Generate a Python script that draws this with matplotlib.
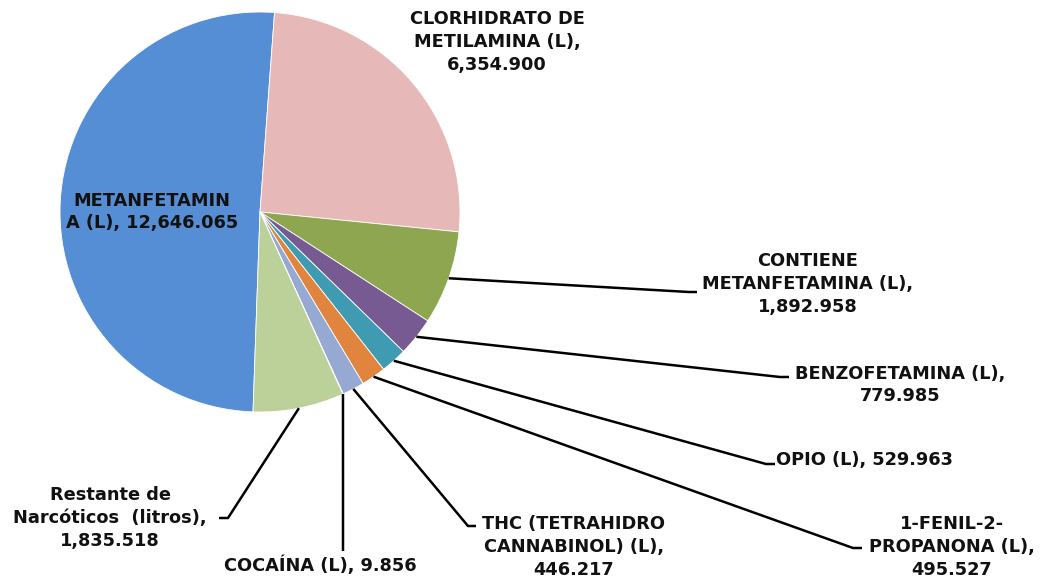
import numpy as np
import matplotlib
matplotlib.use('Agg')
import matplotlib.pyplot as plt

# values in litres
categories = [
    'METANFETAMINA', 'CLORHIDRATO DE METILAMINA', 'CONTIENE METANFETAMINA',
    'BENZOFETAMINA', 'OPIO', '1-FENIL-2-PROPANONA', 'THC', 'COCAÍNA',
    'Restante de Narcóticos',
]
values = [12646.065, 6354.900, 1892.958, 779.985, 529.963, 495.527,
          446.217, 9.856, 1835.518]
labels = [
    'METANFETAMIN\nA (L), 12,646.065',
    'CLORHIDRATO DE\nMETILAMINA (L),\n6,354.900',
    'CONTIENE\nMETANFETAMINA (L),\n1,892.958',
    'BENZOFETAMINA (L),\n779.985',
    'OPIO (L), 529.963',
    '1-FENIL-2-\nPROPANONA (L),\n495.527',
    'THC (TETRAHIDRO\nCANNABINOL) (L),\n446.217',
    'COCAÍNA (L), 9.856',
    'Restante de\nNarcóticos  (litros),\n1,835.518',
]
colors = ['#558ED5', '#E6B9B8', '#8DA64F', '#775A92', '#3E9BB1',
          '#E0843E', '#95A9D2', '#9CB0D8', '#BCD099']

W, H = 1047, 584
CX, CY, R = 260, 212, 200

# label layout in pixel coords (top-left origin): text centre, leader end, tick end
layout = [
    dict(text=(152, 212), line=None),
    dict(text=(497, 42), line=None),
    dict(text=(808, 284), line=((689, 292), (697, 292))),
    dict(text=(900, 385), line=((780, 377), (789, 377))),
    dict(text=(864, 460), line=((766, 464), (775, 464))),
    dict(text=(952, 547), line=((853, 548), (862, 548))),
    dict(text=(574, 547), line=((468, 526), (476, 526))),
    dict(text=(320, 565), line=((343, 551), (343, 551))),
    dict(text=(110, 518), line=((228, 518), (219, 518))),
]

plt.rcParams['font.family'] = ['DejaVu Sans']

fig = plt.figure(figsize=(W / 100, H / 100), dpi=100)
ax = fig.add_axes([0, 0, 1, 1])


def fy(y):
    return H - y


wedges, _ = ax.pie(values, colors=colors, startangle=268, counterclock=False,
                   center=(CX, fy(CY)), radius=R,
                   wedgeprops=dict(edgecolor='white', linewidth=0.6))
ax.set_xlim(0, W)
ax.set_ylim(0, H)
ax.set_aspect('auto')
ax.axis('off')

for w, lab, lay in zip(wedges, labels, layout):
    tx, ty = lay['text']
    ax.text(tx, fy(ty), lab, ha='center', va='center', fontsize=12.8,
            fontweight='bold', color='#111111', linespacing=1.35)
    if lay['line'] is None:
        continue
    mid = np.deg2rad((w.theta1 + w.theta2) / 2)
    sx = CX + R * np.cos(mid)
    sy = fy(CY) + R * np.sin(mid)
    (ex, ey), (kx, ky) = lay['line']
    ax.plot([sx, ex, kx], [sy, fy(ey), fy(ky)], color='black', lw=1.8,
            solid_capstyle='butt', zorder=3)

fig.savefig('out.png', dpi=100)
